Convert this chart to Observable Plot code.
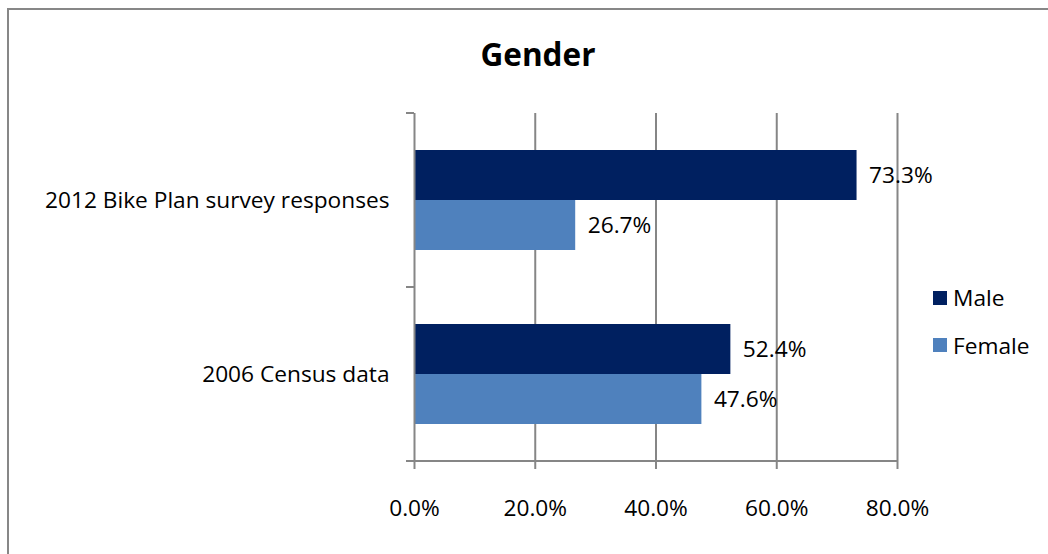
<!DOCTYPE html>
<html>
<head>
<meta charset="utf-8">
<script src="https://cdn.jsdelivr.net/npm/d3@7"></script>
<script src="https://cdn.jsdelivr.net/npm/@observablehq/plot@0.6"></script>
<style>
  html, body { margin: 0; padding: 0; background: #fff; }
  #wrap { position: relative; width: 1048px; height: 554px; overflow: hidden; font-family: "Open Sans", sans-serif; }
  #border { position: absolute; left: 7px; top: 8px; width: 1200px; height: 700px; border-top: 2px solid #878787; border-left: 2px solid #878787; box-sizing: border-box; }
  #chart { position: absolute; left: 0; top: 0; }
  #title { position: absolute; top: 38px; left: 433px; width: 210px; text-align: center; font-weight: 700; font-size: 31.5px; line-height: 31.5px; color: #000; }
  #legend { position: absolute; left: 933px; top: 274px; }
  .item { height: 47.5px; display: flex; align-items: center; font-size: 22.7px; color: #000; }
  .sw { width: 14px; height: 14px; margin-right: 6px; }
</style>
</head>
<body>
<div id="wrap">
  <div id="border"></div>
  <div id="chart"></div>
  <div id="title">Gender</div>
  <div id="legend"></div>
</div>
<script>
const categories = ["2012 Bike Plan survey responses", "2006 Census data"];
const seriesNames = ["Male", "Female"];
const maleValues = [73.3, 52.4];
const femaleValues = [26.7, 47.6];
const xTicks = [0, 20, 40, 60, 80];
const seriesColors = ["#002060", "#4F81BD"];

const rows = categories.flatMap((c, i) => [
  {category: c, series: seriesNames[0], value: maleValues[i]},
  {category: c, series: seriesNames[1], value: femaleValues[i]}
]);
const maleRows = rows.filter(d => d.series === seriesNames[0]);
const femaleRows = rows.filter(d => d.series === seriesNames[1]);
const fmt = d => d.toFixed(1) + "%";
const AX = "#868686";

function boundaryTicks(index, scales, values, dimensions) {
  const {width, height, marginLeft, marginRight, marginBottom} = dimensions;
  const g = d3.create("svg:g").attr("stroke", AX).attr("stroke-width", 2);
  const ys = categories.map(c => scales.y(c));
  ys.push(height - marginBottom);
  for (const y of ys) {
    g.append("line").attr("x1", marginLeft - 8).attr("x2", marginLeft).attr("y1", y).attr("y2", y);
  }
  g.append("line")
    .attr("x1", marginLeft - 8).attr("x2", width - marginRight)
    .attr("y1", height - marginBottom).attr("y2", height - marginBottom);
  return g.node();
}

const chart = Plot.plot({
  width: 1048,
  height: 554,
  marginLeft: 414,
  marginRight: 151,
  marginTop: 113,
  marginBottom: 93,
  style: {fontFamily: "Open Sans", fontSize: "22.7px", color: "#000", background: "transparent", overflow: "visible"},
  x: {domain: [0, 80]},
  y: {domain: categories, padding: 0, round: false},
  color: {domain: seriesNames, range: seriesColors},
  marks: [
    Plot.ruleX(xTicks.filter(d => d > 0), {stroke: AX, strokeWidth: 2}),
    Plot.barX(maleRows, {x: "value", y: "category", fill: "series", insetTop: 37, insetBottom: 87}),
    Plot.barX(femaleRows, {x: "value", y: "category", fill: "series", insetTop: 87, insetBottom: 37}),
    Plot.ruleX([0], {stroke: AX, strokeWidth: 2}),
    boundaryTicks,
    Plot.axisX(xTicks, {tickFormat: fmt, tickSize: 8, tickPadding: 30, stroke: AX, strokeWidth: 2, fill: "#000", label: null}),
    Plot.axisY({tickSize: 0, tickPadding: 25, fill: "#000", label: null}),
    Plot.text(maleRows, {x: "value", y: "category", text: d => fmt(d.value), textAnchor: "start", dx: 12, dy: -25, fill: "#000"}),
    Plot.text(femaleRows, {x: "value", y: "category", text: d => fmt(d.value), textAnchor: "start", dx: 12, dy: 25, fill: "#000"})
  ]
});
document.getElementById("chart").appendChild(chart);

const legend = document.getElementById("legend");
seriesNames.forEach((s, i) => {
  const item = document.createElement("div");
  item.className = "item";
  const sw = document.createElement("span");
  sw.className = "sw";
  sw.style.background = seriesColors[i];
  const t = document.createElement("span");
  t.textContent = s;
  item.appendChild(sw);
  item.appendChild(t);
  legend.appendChild(item);
});
</script>
</body>
</html>
